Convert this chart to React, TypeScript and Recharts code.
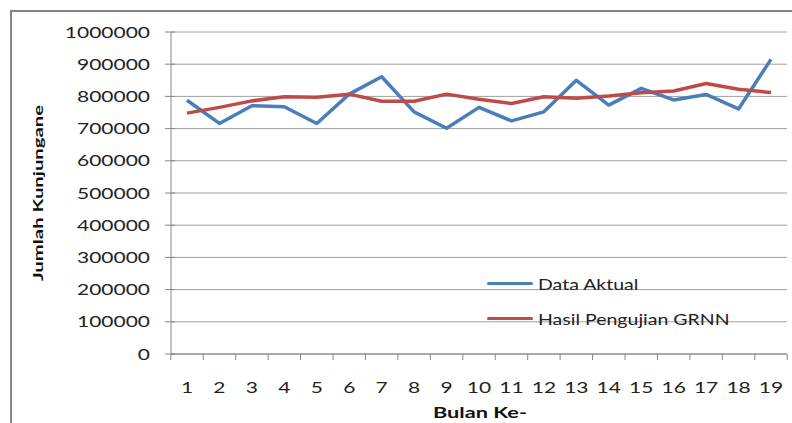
import { LineChart, Line, XAxis, YAxis, CartesianGrid, Legend } from 'recharts';

const bulan = ['1', '2', '3', '4', '5', '6', '7', '8', '9', '10', '11', '12', '13', '14', '15', '16', '17', '18', '19'];
const dataAktual = [788000, 716000, 771000, 768000, 716000, 807000, 861000, 752000, 701000, 766000, 724000, 752000, 850000, 773000, 825000, 789000, 806000, 761000, 915000];
const hasilGrnn = [748000, 766000, 786000, 799000, 797000, 807000, 785000, 785000, 807000, 791000, 778000, 799000, 794000, 801000, 811000, 817000, 840000, 822000, 812000];
const yTicks = [0, 100000, 200000, 300000, 400000, 500000, 600000, 700000, 800000, 900000, 1000000];

const data = bulan.map((b, i) => ({ bulan: b, aktual: dataAktual[i], grnn: hasilGrnn[i] }));

const FONT = 'Lato, "Open Sans", sans-serif';
const AXIS = '#868686';
const STRETCH = 1.4;

const YTick = (props: any) => {
  const { x, y, payload } = props;
  return (
    <g>
      <line x1={x + 15} x2={x + 25} y1={y} y2={y} stroke={AXIS} />
      <g transform={`translate(${x},${y + 5.5}) scale(${STRETCH},1)`}>
        <text x={0} y={0} textAnchor="end" fontSize={15} fontFamily={FONT} fill="#222">
          {payload.value}
        </text>
      </g>
    </g>
  );
};

const XTick = (props: any) => {
  const { x, y, payload, index, visibleTicksCount } = props;
  const half = 16.2;
  return (
    <g>
      <line x1={x - half} x2={x - half} y1={y - 6} y2={y} stroke={AXIS} />
      {index === visibleTicksCount - 1 && (
        <line x1={x + half} x2={x + half} y1={y - 6} y2={y} stroke={AXIS} />
      )}
      <g transform={`translate(${x},${y + 33}) scale(${STRETCH},1)`}>
        <text x={0} y={0} textAnchor="middle" fontSize={15} fontFamily={FONT} fill="#222">
          {payload.value}
        </text>
      </g>
      {index === 9 && (
        <g transform={`translate(${x + 1},${y + 58}) scale(1.45,1)`}>
          <text x={0} y={0} textAnchor="middle" fontSize={15} fontWeight="bold" fontFamily={FONT} fill="#111">
            Bulan Ke-
          </text>
        </g>
      )}
    </g>
  );
};

const YTitle = () => (
  <g transform="translate(43,193) rotate(-90) scale(1.45,1)">
    <text x={0} y={0} textAnchor="middle" fontSize={14} fontWeight="bold" fontFamily={FONT} fill="#111">
      Jumlah Kunjungane
    </text>
  </g>
);

const LegendBox = () => (
  <div style={{ fontFamily: FONT, fontSize: 15, color: '#222' }}>
    {[
      { label: 'Data Aktual', color: '#4a7ebb' },
      { label: 'Hasil Pengujian GRNN', color: '#be4b48' },
    ].map((item) => (
      <div key={item.label} style={{ display: 'flex', alignItems: 'center', height: 35 }}>
        <span style={{ width: 46, height: 3.5, background: item.color, display: 'inline-block', borderRadius: 2 }} />
        <span style={{ marginLeft: 5, display: 'inline-block', transform: 'scale(1.3,1)', transformOrigin: 'left center', whiteSpace: 'nowrap' }}>
          {item.label}
        </span>
      </div>
    ))}
  </div>
);

export default function App() {
  return (
    <div style={{ position: 'absolute', left: 0, top: 0, width: 792, height: 423, background: '#fff', overflow: 'hidden' }}>
      <div style={{ position: 'absolute', left: 10, top: 10, width: 800, height: 430, borderLeft: `2px solid ${AXIS}`, borderTop: `2px solid ${AXIS}` }} />
      <LineChart width={792} height={423} data={data} margin={{ top: 32, right: 5, left: 0, bottom: 0 }}>
        <CartesianGrid vertical={false} stroke="#a0a0a0" />
        <XAxis
          dataKey="bulan"
          height={69}
          interval={0}
          padding={{ left: 16, right: 16 }}
          axisLine={{ stroke: AXIS }}
          tickLine={false}
          tickSize={6}
          tickMargin={0}
          tick={<XTick />}
        />
        <YAxis
          width={171}
          domain={[0, 1000000]}
          ticks={yTicks}
          interval={0}
          axisLine={{ stroke: AXIS }}
          tickLine={false}
          tickSize={5}
          tickMargin={16}
          tick={<YTick />}
          label={{ content: <YTitle /> }}
        />
        <Legend
          layout="horizontal"
          verticalAlign="middle"
          align="center"
          content={<LegendBox />}
          wrapperStyle={{ position: 'absolute', left: 487, top: 266, width: 300 }}
        />
        <Line type="linear" dataKey="aktual" name="Data Aktual" stroke="#4a7ebb" strokeWidth={3.5} dot={false} strokeLinejoin="round" isAnimationActive={false} />
        <Line type="linear" dataKey="grnn" name="Hasil Pengujian GRNN" stroke="#be4b48" strokeWidth={3.5} dot={false} strokeLinejoin="round" isAnimationActive={false} />
      </LineChart>
    </div>
  );
}
